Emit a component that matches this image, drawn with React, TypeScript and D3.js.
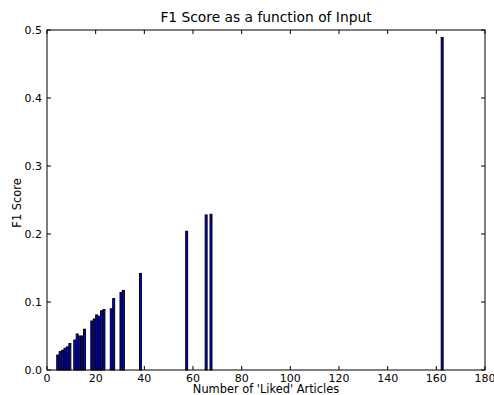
import React from 'react';
import * as d3 from 'd3';

// number of liked articles (bar left edge) and the F1 score for it
const articles = [4, 5, 6, 7, 8, 9, 11, 12, 13, 14, 15, 18, 19, 20, 21, 22, 23, 26, 27, 30, 31, 38, 57, 65, 67, 162];
const f1Scores = [
  0.022, 0.027, 0.029, 0.032, 0.034, 0.039,
  0.044, 0.053, 0.05, 0.05, 0.06,
  0.072, 0.075, 0.081, 0.079, 0.087, 0.089,
  0.09, 0.105, 0.114, 0.117,
  0.142, 0.204, 0.228, 0.229, 0.489,
];
const xTicks = [0, 20, 40, 60, 80, 100, 120, 140, 160, 180];
const yTicks = [0, 0.1, 0.2, 0.3, 0.4, 0.5];

const width = 494;
const height = 395;
const left = 47;
const right = 485;
const top = 30;
const bottom = 370;
const font = 'DejaVu Sans, sans-serif';

const App = () => {
  const x = d3.scaleLinear().domain([0, 180]).range([left, right]);
  const y = d3.scaleLinear().domain([0, 0.5]).range([bottom, top]);
  const barW = x(0.8) - x(0);
  const tickLen = 4;

  return (
    <svg width={width} height={height} style={{ position: 'absolute', left: 0, top: 0 }}>
      <rect width={width} height={height} fill="#fff" />
      {articles.map((a, i) => (
        <rect
          key={i}
          x={x(a)}
          y={y(f1Scores[i])}
          width={barW}
          height={y(0) - y(f1Scores[i])}
          fill="#0000ff"
          stroke="#000"
          strokeWidth={1}
        />
      ))}
      <rect x={left} y={top} width={right - left} height={bottom - top} fill="none" stroke="#000" strokeWidth={1} />
      {xTicks.map(t => (
        <g key={'x' + t}>
          <line x1={x(t)} x2={x(t)} y1={bottom} y2={bottom - tickLen} stroke="#000" />
          <line x1={x(t)} x2={x(t)} y1={top} y2={top + tickLen} stroke="#000" />
          <text x={x(t)} y={bottom + 11.5} textAnchor="middle" fontFamily={font} fontSize={11} fill="#000">
            {t}
          </text>
        </g>
      ))}
      {yTicks.map(t => (
        <g key={'y' + t}>
          <line x1={left} x2={left + tickLen} y1={y(t)} y2={y(t)} stroke="#000" />
          <line x1={right} x2={right - tickLen} y1={y(t)} y2={y(t)} stroke="#000" />
          <text x={left - 5} y={y(t) + 4} textAnchor="end" fontFamily={font} fontSize={11} fill="#000">
            {d3.format('.1f')(t)}
          </text>
        </g>
      ))}
      <text x={(left + right) / 2} y={22} textAnchor="middle" fontFamily={font} fontSize={13.8} fill="#000">
        F1 Score as a function of Input
      </text>
      <text x={(left + right) / 2} y={392.5} textAnchor="middle" fontFamily={font} fontSize={11.4} fill="#000">
        Number of 'Liked' Articles
      </text>
      <text
        transform={`translate(21, ${(top + bottom) / 2 + 3}) rotate(-90)`}
        textAnchor="middle"
        fontFamily={font}
        fontSize={11.4}
        fill="#000"
      >
        F1 Score
      </text>
    </svg>
  );
};

export default App;
